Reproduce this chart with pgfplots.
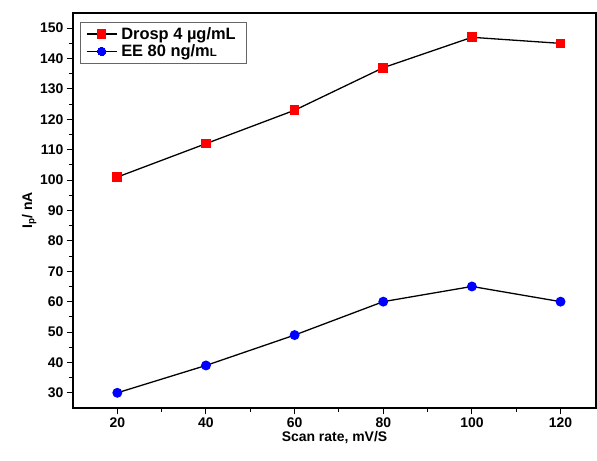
\documentclass[border=0pt]{standalone}
\usepackage{pgfplots}
\pgfplotsset{compat=1.18}
\usepackage{fontspec}
\setmainfont{Liberation Sans}
\begin{document}
\begin{tikzpicture}[x=1bp,y=1bp]
\begin{axis}[
  name=ax,
  scale only axis,
  width=523bp, height=395bp,
  xmin=10, xmax=128, ymin=25, ymax=155,
  xtick={20,40,...,120}, ytick={30,40,...,150},
  minor tick num=1,
  tick pos=left,
  tick align=outside,
  major tick length=6bp, minor tick length=3.5bp,
  tick style={black, line width=1pt},
  axis line style={line width=1.1pt},
  ticklabel style={font=\fontsize{14}{16}\selectfont\bfseries},
  /pgf/number format/assume math mode=true,
  xlabel={\textbf{Scan rate, mV/S}},
  ylabel={\textbf{I\textsubscript{p}/ nA}},
  label style={font=\fontsize{14}{16}\selectfont},
  xlabel style={yshift=3bp},
  ylabel style={yshift=-3bp},
  legend style={at={(0.013,0.977)}, anchor=north west, draw=black!60, font=\fontsize{16.5}{19}\selectfont\bfseries, inner xsep=6pt, inner ysep=3pt,
    nodes={inner xsep=4pt}},
  legend cell align=left,
  legend image code/.code={
    \draw[black, line width=1.3pt] (0bp,0bp) -- (30bp,0bp);
    \draw[#1, line width=0pt] plot coordinates {(15bp,0bp)};
  },
]
\addplot[black, line width=1.3pt, mark=square*, mark size=4.2pt, mark options={fill=red, draw=red}]
 coordinates {(20,101) (40,112) (60,123) (80,137) (100,147) (120,145)};
\addlegendentry{Drosp 4 \textmu g/mL}
\addplot[black, line width=1.3pt, mark=*, mark size=4.3pt, mark options={fill=blue, draw=blue}]
 coordinates {(20,30) (40,39) (60,49) (80,60) (100,65) (120,60)};
\addlegendentry{EE 80 ng/m{\fontsize{11.5}{12}\selectfont L}}
\end{axis}
\path (ax.south west) ++(-73bp,-53bp) rectangle ([shift={(1bp,13bp)}]ax.north east);
\end{tikzpicture}
\end{document}
